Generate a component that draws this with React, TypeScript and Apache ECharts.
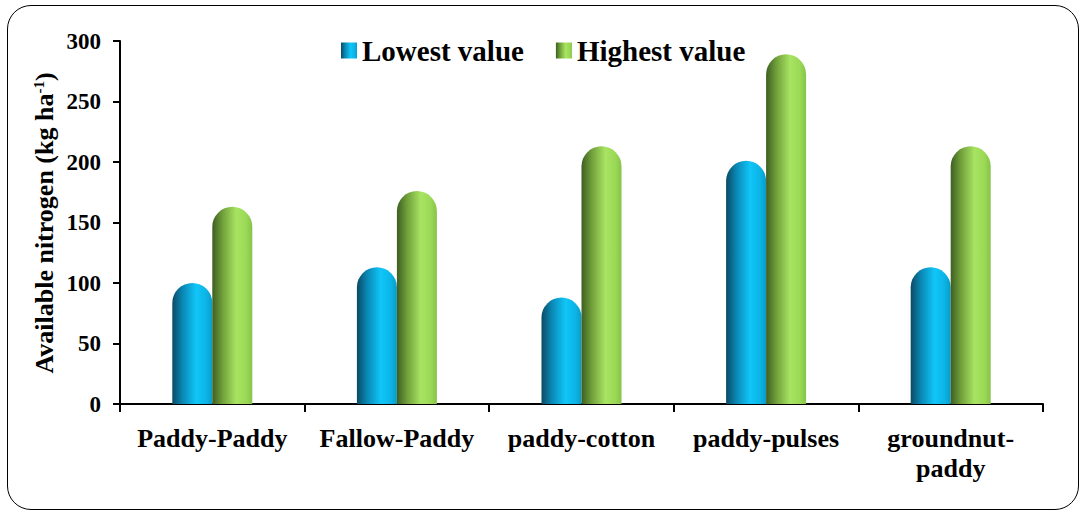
import React, { useEffect, useRef } from "react";
import * as echarts from "echarts";

const categories = ["Paddy-Paddy", "Fallow-Paddy", "paddy-cotton", "paddy-pulses", "groundnut-paddy"];
const lowestValues = [100, 113, 88, 201, 113];
const highestValues = [163, 176, 213, 289, 213];
const yTicks = [0, 50, 100, 150, 200, 250, 300];
const yAxisTitleMain = "Available nitrogen (kg ha";
const yAxisTitleSup = "-1";
const yAxisTitleEnd = ")";

const FONT = "serif";

const blueGrad = new echarts.graphic.LinearGradient(0, 0, 1, 0, [
  { offset: 0, color: "#0b4a63" },
  { offset: 0.25, color: "#0a86b3" },
  { offset: 0.6, color: "#10c6f8" },
  { offset: 0.85, color: "#0cb4e6" },
  { offset: 1, color: "#0a9bc8" },
]);
const greenGrad = new echarts.graphic.LinearGradient(0, 0, 1, 0, [
  { offset: 0, color: "#3e5e22" },
  { offset: 0.25, color: "#6f9e3a" },
  { offset: 0.6, color: "#a8e462" },
  { offset: 0.85, color: "#9ad856" },
  { offset: 1, color: "#86c349" },
]);

export default function App() {
  const ref = useRef<HTMLDivElement>(null);
  useEffect(() => {
    if (!ref.current) return;
    const chart = echarts.init(ref.current, undefined, { renderer: "svg" });
    chart.setOption({
      animation: false,
      textStyle: { fontFamily: FONT },
      legend: {
        left: 336,
        top: 31,
        itemWidth: 16,
        itemHeight: 16,
        itemGap: 32,
        icon: "rect",
        textStyle: { fontFamily: FONT, fontWeight: "bold", fontSize: 29, color: "#000" },
        data: ["Lowest value", "Highest value"],
      },
      grid: { left: 120, right: 40, top: 41, bottom: 109, containLabel: false },
      xAxis: {
        type: "category",
        data: categories,
        axisLine: { lineStyle: { color: "#000", width: 2 } },
        axisTick: { show: true, length: 8, lineStyle: { color: "#000", width: 2 } },
        axisLabel: {
          interval: 0,
          margin: 19,
          fontFamily: FONT,
          fontWeight: "bold",
          fontSize: 26,
          color: "#000",
          lineHeight: 30,
          formatter: (v: string) => (v.length > 13 ? v.replace("-", "-\n") : v),
        },
      },
      yAxis: {
        type: "value",
        min: yTicks[0],
        max: yTicks[yTicks.length - 1],
        interval: 50,
        splitLine: { show: false },
        axisLine: { show: true, lineStyle: { color: "#000", width: 2 } },
        axisTick: { show: true, length: 7, lineStyle: { color: "#000", width: 2 } },
        axisLabel: { fontFamily: FONT, fontWeight: "bold", fontSize: 23, color: "#000", margin: 19 },
      },
      series: [
        {
          name: "Lowest value",
          type: "bar",
          data: lowestValues,
          barWidth: 40,
          barGap: "0%",
          itemStyle: { color: blueGrad, borderRadius: [20, 20, 0, 0] },
        },
        {
          name: "Highest value",
          type: "bar",
          data: highestValues,
          barWidth: 40,
          itemStyle: { color: greenGrad, borderRadius: [20, 20, 0, 0] },
        },
      ],
    });
    return () => chart.dispose();
  }, []);
  return (
    <div style={{ position: "fixed", left: 0, top: 0, width: 1083, height: 513, background: "#fff" }}>
      <div
        style={{
          position: "absolute",
          left: 7,
          top: 5,
          width: 1072,
          height: 505,
          boxSizing: "border-box",
          border: "1.5px solid #000",
          borderRadius: 24,
          pointerEvents: "none",
        }}
      />
      <div ref={ref} style={{ position: "absolute", left: 0, top: 0, width: 1083, height: 513 }} />
      <div
        style={{
          position: "absolute",
          left: 45,
          top: 223,
          transform: "translate(-50%, -50%) rotate(-90deg)",
          whiteSpace: "nowrap",
          fontFamily: "serif",
          fontWeight: "bold",
          fontSize: 26,
          lineHeight: "30px",
          color: "#000",
          pointerEvents: "none",
        }}
      >
        {yAxisTitleMain}
        <sup style={{ fontSize: 15, verticalAlign: "9px", lineHeight: 0 }}>{yAxisTitleSup}</sup>
        {yAxisTitleEnd}
      </div>
    </div>
  );
}
